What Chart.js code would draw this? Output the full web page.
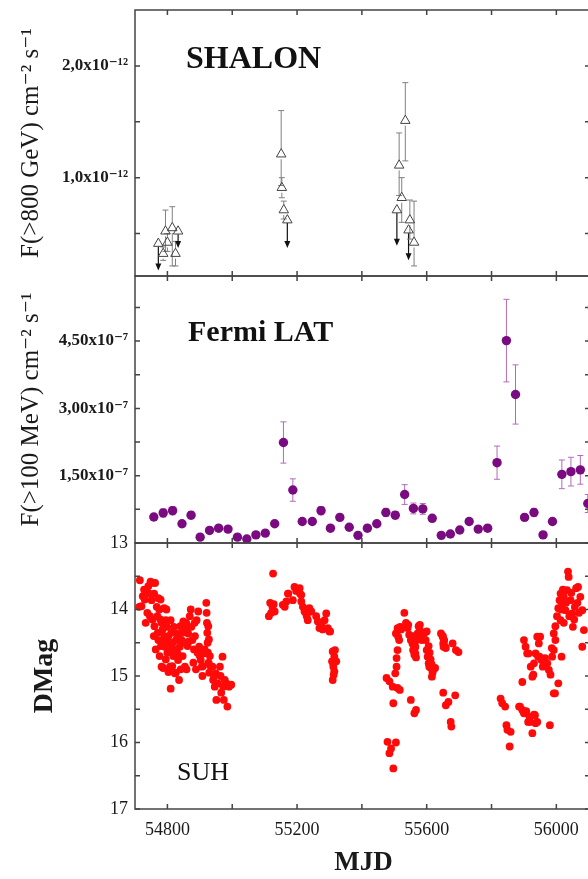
<!DOCTYPE html>
<html>
<head>
<meta charset="utf-8">
<script src="https://cdn.jsdelivr.net/npm/chart.js@4.4.1/dist/chart.umd.min.js"></script>
<style>
html, body { margin: 0; padding: 0; background: #fff; overflow: hidden; }
#wrap { position: relative; width: 588px; height: 879px; overflow: hidden; }
canvas { position: absolute; left: 0; top: 0; }
</style>
</head>
<body>
<div id="wrap">
  <canvas id="shalon" width="600" height="879"></canvas>
  <canvas id="fermi" width="600" height="879"></canvas>
  <canvas id="suh" width="600" height="879"></canvas>
</div>
<script>
'use strict';

// shared time axis
var xMin = 54700, xMax = 56110;
var xTicks = [54800, 55000, 55200, 55400, 55600, 55800, 56000];

// SHALON, F(>800 GeV) in units of 1e-12
var shalonMjd  = [54772, 54787, 54794, 54800, 54815, 54825, 54833, 55151, 55153, 55159, 55170, 55508, 55515, 55523, 55534, 55544, 55548, 55561];
var shalonFlux = [0.41, 0.32, 0.52, 0.42, 0.55, 0.32, 0.52, 1.21, 0.91, 0.71, 0.62, 0.71, 1.11, 0.82, 1.51, 0.53, 0.62, 0.42];
var shalonLo   = [null, 0.26, 0.34, 0.34, 0.21, 0.21, null, 0.93, 0.82, 0.63, null, null, 0.84, 0.60, 1.15, null, 0.45, 0.21];
var shalonHi   = [null, 0.38, 0.71, 0.50, 0.74, 0.43, null, 1.60, 1.00, 0.79, null, null, 1.40, 1.00, 1.85, null, 0.80, 0.79];
// upper limits: arrow tip value
var shalonUL   = [0.17, null, null, null, null, null, 0.37, null, null, null, 0.37, 0.39, null, null, null, 0.26, null, null];
var shalonTickVals = [0.5, 1, 1.5, 2];
var shalonTickText = ['', '1,0x10⁻¹²', '', '2,0x10⁻¹²'];

// Fermi LAT, F(>100 MeV) in units of 1e-7
var fermiMjd = [54758, 54787, 54816, 54845, 54873, 54901, 54930, 54958, 54987, 55016,
                55045, 55073, 55102, 55131, 55158, 55187, 55216, 55247, 55274, 55303,
                55332, 55361, 55388, 55417, 55446, 55474, 55503, 55532, 55559, 55588,
                55617, 55645, 55673, 55702, 55731, 55759, 55788, 55817, 55846, 55874,
                55902, 55931, 55959, 55988, 56017, 56045, 56074, 56097];
var fermiFlux = [0.58, 0.67, 0.72, 0.43, 0.62, 0.13, 0.28, 0.33, 0.31, 0.13,
                 0.09, 0.18, 0.22, 0.43, 2.24, 1.18, 0.48, 0.48, 0.72, 0.33,
                 0.57, 0.35, 0.17, 0.33, 0.43, 0.68, 0.62, 1.08, 0.77, 0.76,
                 0.55, 0.17, 0.20, 0.29, 0.48, 0.31, 0.33, 1.79, 4.51, 3.31,
                 0.57, 0.68, 0.18, 0.48, 1.53, 1.59, 1.63, 0.88];
var fermiErr = [0.07, 0.09, 0.09, 0.07, 0.08, 0.05, 0.05, 0.05, 0.05, 0.05,
                0.05, 0.05, 0.05, 0.06, 0.46, 0.25, 0.05, 0.05, 0.09, 0.05,
                0.07, 0.05, 0.05, 0.05, 0.05, 0.09, 0.08, 0.22, 0.12, 0.12,
                0.07, 0.05, 0.05, 0.05, 0.06, 0.05, 0.05, 0.37, 0.92, 0.66,
                0.07, 0.09, 0.05, 0.06, 0.32, 0.32, 0.32, 0.20];
var fermiTickVals = [0.75, 1.5, 2.25, 3, 3.75, 4.5, 5.25];
var fermiTickText = ['', '1,50x10⁻⁷', '', '3,00x10⁻⁷', '', '4,50x10⁻⁷', ''];

// SUH optical, DMag
var suhMjd = [
  // 2008-09 season
  54713, 54715, 54720, 54724, 54728, 54733, 54738, 54741, 54744, 54748,
  54751, 54754, 54756, 54758, 54759, 54762, 54764, 54767, 54769, 54770,
  54772, 54772, 54775, 54776, 54779, 54780, 54782, 54782, 54785, 54787,
  54787, 54790, 54792, 54795, 54795, 54797, 54799, 54800, 54803, 54803,
  54806, 54808, 54810, 54810, 54815, 54816, 54818, 54820, 54823, 54826,
  54826, 54828, 54831, 54833, 54836, 54838, 54840, 54841, 54844, 54847,
  54849, 54852, 54854, 54856, 54859, 54862, 54864, 54869, 54874, 54877,
  54880, 54882, 54885, 54888, 54890, 54893, 54895, 54898, 54900, 54903,
  54906, 54908, 54910, 54912, 54915, 54920, 54921, 54922, 54923, 54924,
  54925, 54927, 54929, 54939, 54941, 54946, 54949, 54951, 54956, 54962,
  54964, 54970, 54972, 54974, 54977, 54982, 54985, 54990, 54997,
  54730, 54746, 54760, 54778, 54790, 54805, 54812, 54822, 54834, 54846,
  54858, 54866, 54872, 54884, 54926, 54928, 54931, 54933, 54944, 54966,
  // 2009-10
  55113, 55117, 55120, 55124, 55126, 55128, 55131, 55156, 55162, 55167,
  55172, 55187, 55192, 55197, 55203, 55208, 55213, 55213, 55218, 55223,
  55228, 55233, 55238, 55244, 55259, 55264, 55269, 55274, 55279, 55285,
  55290, 55295, 55300, 55308, 55310, 55310, 55312, 55313, 55315, 55315,
  55321,
  55173, 55209, 55230, 55276, 55302, 55317, 55312,
  // 2010-11
  55476, 55479, 55485, 55485, 55490, 55495, 55497, 55497, 55503, 55505,
  55505, 55507, 55507, 55510, 55510, 55510, 55515, 55517, 55521, 55531,
  55536, 55541, 55546, 55551, 55551, 55556, 55558, 55562, 55562, 55565,
  55567, 55569, 55572, 55575, 55579, 55582, 55585, 55592, 55597, 55600,
  55603, 55606, 55608, 55613, 55616, 55620, 55626, 55644, 55649, 55651,
  55651, 55654, 55657, 55659, 55659, 55667, 55674, 55676, 55680, 55688,
  55690, 55698,
  55559, 55561, 55563, 55565, 55567, 55560, 55606, 55609, 55612, 55615,
  55618, 55650, 55652, 55653, 55543, 55512, 55518, 55579, 55600,
  // 2011-12
  55828, 55833, 55842, 55846, 55849, 55856, 55859, 55885, 55895, 55895,
  55900, 55900, 55905, 55907, 55910, 55913, 55917, 55921, 55926, 55926,
  55931, 55931, 55936, 55936, 55941, 55941, 55946, 55948, 55954, 55958,
  55965, 55972, 55977, 55980, 55982, 55987, 55992, 55992, 55992, 55997,
  55997, 56002, 56006, 56006, 56010, 56013, 56013, 56016, 56018, 56023,
  56023, 56028, 56033, 56036, 56038, 56044, 56049, 56051, 56057, 56061,
  56067, 56074, 56080, 56080, 56085,
  56015, 56020, 56030, 56040, 56046, 56055, 56065, 56070, 55950, 55914,
  55944, 55986, 55929, 55996, 55888, 55934, 55919
];
var suhMag = [
  13.96, 13.56, 13.95, 13.80, 13.70, 14.20, 14.05, 13.65, 13.76, 13.58,
  13.86, 14.15, 13.60, 14.40, 13.76, 13.60, 14.60, 13.96, 14.10, 14.35,
  13.83, 14.46, 14.00, 14.70, 13.85, 14.55, 14.20, 14.86, 14.30, 14.46,
  14.88, 13.98, 14.56, 14.16, 14.75, 14.00, 14.26, 14.65, 14.40, 14.94,
  14.60, 14.86, 14.16, 15.19, 14.85, 14.50, 14.70, 14.26, 14.96, 14.46,
  14.95, 14.36, 14.66, 14.76, 15.06, 14.56, 14.25, 14.90, 14.46, 14.70,
  14.18, 14.50, 14.86, 14.30, 14.90, 14.55, 14.36, 14.10, 14.26, 14.46,
  14.80, 14.60, 14.40, 14.90, 14.16, 14.65, 14.03, 14.56, 14.70, 14.76,
  14.86, 15.00, 14.85, 14.66, 14.60, 13.90, 14.05, 14.20, 14.35, 14.50,
  14.65, 14.80, 14.95, 14.86, 15.06, 15.16, 14.96, 15.36, 15.11, 14.86,
  15.00, 14.71, 15.16, 15.36, 15.06, 15.11, 15.46, 15.16, 15.13,
  13.85, 14.10, 14.25, 14.15, 14.40, 14.50, 14.35, 14.60, 14.40, 14.35,
  14.20, 14.48, 14.00, 14.20, 14.25, 14.45, 14.70, 14.85, 15.00, 15.25,

  14.10, 13.90, 14.05, 13.96, 13.46, 13.92, 14.03, 13.93, 13.96, 13.88,
  13.76, 13.86, 13.66, 13.72, 13.71, 13.68, 13.78, 13.88, 13.96, 14.03,
  14.06, 14.16, 13.98, 14.03, 14.10, 14.18, 14.28, 14.20, 14.30, 14.16,
  14.06, 14.28, 14.33, 14.78, 14.63, 15.06, 14.86, 14.98, 14.71, 14.93,
  14.78,
  13.76, 13.76, 14.10, 14.25, 14.33, 14.61, 14.82,

  15.03, 15.99, 15.08, 16.16, 16.09, 15.16, 15.41, 16.39, 14.96, 16.00,
  14.36, 14.73, 14.86, 15.18, 14.28, 14.61, 14.46, 15.21, 14.30, 14.05,
  14.20, 14.28, 14.38, 14.46, 15.36, 14.51, 14.61, 14.68, 15.56, 14.56,
  15.51, 14.46, 14.36, 14.25, 14.31, 14.41, 14.46, 14.36, 14.46, 14.61,
  14.71, 14.81, 14.86, 14.88, 15.01, 14.91, 14.88, 14.36, 14.41, 14.51,
  15.25, 14.46, 14.56, 14.58, 15.44, 15.39, 15.69, 15.76, 14.51, 15.29,
  14.61, 14.64,
  14.40, 14.50, 14.58, 14.66, 14.72, 14.62, 14.55, 14.65, 14.75, 14.82,
  14.95, 14.40, 14.56, 14.48, 14.23, 14.41, 14.26, 14.23, 14.33,

  15.34, 15.41, 15.46, 15.74, 15.81, 16.06, 15.84, 15.46, 15.51, 15.09,
  15.56, 14.46, 14.56, 15.53, 14.66, 15.69, 15.61, 14.86, 15.86, 15.01,
  15.58, 14.81, 15.71, 14.66, 15.69, 14.41, 14.51, 14.71, 14.76, 14.86,
  14.73, 14.81, 14.91, 15.74, 14.98, 14.71, 14.61, 15.26, 14.36, 14.46,
  14.25, 14.10, 15.11, 13.98, 13.86, 13.76, 14.16, 14.71, 13.91, 13.81,
  14.20, 14.01, 13.71, 13.43, 13.51, 13.86, 14.06, 14.26, 13.96, 13.68,
  13.66, 13.81, 14.01, 14.56, 14.31,
  14.00, 13.70, 13.90, 14.10, 13.75, 14.15, 13.90, 14.05, 14.41, 14.66,
  14.71, 14.58, 14.98, 15.26, 15.46, 15.59, 15.69
];
var suhTickVals = [13, 13.5, 14, 14.5, 15, 15.5, 16, 16.5, 17];

Chart.defaults.font.family = "'Liberation Serif', 'DejaVu Serif', serif";
Chart.defaults.color = '#1a1a1a';

function points(xs, ys) {
  return xs.map(function(x, i) { return { x: x, y: ys[i] }; });
}

// frame, inward ticks, error bars, upper limits, panel label
var panelPlugin = {
  id: 'panel',
  beforeDatasetsDraw: function(chart) {
    var ctx = chart.ctx, a = chart.chartArea;
    var xs = chart.scales.x, ys = chart.scales.y;
    ctx.save();
    ctx.beginPath();
    ctx.rect(a.left, a.top, a.right - a.left, a.bottom - a.top);
    ctx.clip();
    chart.data.datasets.forEach(function(ds) {
      ds.data.forEach(function(p, i) {
        var px = xs.getPixelForValue(p.x), py = ys.getPixelForValue(p.y);
        if (ds.errLo && ds.errLo[i] != null) {
          var y1 = ys.getPixelForValue(ds.errLo[i]);
          var y2 = ys.getPixelForValue(ds.errHi[i]);
          ctx.strokeStyle = ds.errColor;
          ctx.lineWidth = 1;
          ctx.beginPath();
          ctx.moveTo(px, y2); ctx.lineTo(px, py - ds.errGap);
          ctx.moveTo(px, py + ds.errGap); ctx.lineTo(px, y1);
          ctx.moveTo(px - 3, y1); ctx.lineTo(px + 3, y1);
          ctx.moveTo(px - 3, y2); ctx.lineTo(px + 3, y2);
          ctx.stroke();
        }
        if (ds.limitTo && ds.limitTo[i] != null) {
          var yt = ys.getPixelForValue(ds.limitTo[i]);
          ctx.strokeStyle = '#111';
          ctx.fillStyle = '#111';
          ctx.lineWidth = 1.2;
          ctx.beginPath();
          ctx.moveTo(px, py + 3); ctx.lineTo(px, yt - 5);
          ctx.stroke();
          ctx.beginPath();
          ctx.moveTo(px - 3, yt - 7); ctx.lineTo(px + 3, yt - 7); ctx.lineTo(px, yt);
          ctx.closePath();
          ctx.fill();
        }
      });
    });
    ctx.restore();
  },
  afterDraw: function(chart) {
    var ctx = chart.ctx, a = chart.chartArea;
    var xs = chart.scales.x, ys = chart.scales.y;
    var opts = chart.options.plugins.panel;
    ctx.save();
    ctx.strokeStyle = '#444';
    ctx.lineWidth = 1.5;
    ctx.strokeRect(a.left, a.top, a.right - a.left, a.bottom - a.top);
    ctx.beginPath();
    xTicks.forEach(function(v) {
      var x = xs.getPixelForValue(v);
      ctx.moveTo(x, a.top); ctx.lineTo(x, a.top + 5);
      ctx.moveTo(x, a.bottom); ctx.lineTo(x, a.bottom - 5);
    });
    ys.ticks.forEach(function(t) {
      var y = ys.getPixelForValue(t.value);
      ctx.moveTo(a.left, y); ctx.lineTo(a.left + 5, y);
      ctx.moveTo(a.right, y); ctx.lineTo(a.right - 7, y);
    });
    ctx.stroke();
    ctx.fillStyle = '#111';
    ctx.font = opts.font;
    ctx.textAlign = 'left';
    ctx.textBaseline = 'middle';
    ctx.fillText(opts.label, opts.x, opts.y);
    ctx.restore();
  }
};

function xAxis(show) {
  return {
    type: 'linear', min: xMin, max: xMax, display: show,
    grid: { display: false, drawTicks: false },
    border: { display: false },
    afterBuildTicks: function(s) { s.ticks = xTicks.map(function(v) { return { value: v }; }); },
    afterFit: function(s) {
      s.height = show ? 70 : 0;
      s.paddingLeft = 0; s.paddingRight = 0;
    },
    ticks: {
      autoSkip: false, maxRotation: 0, padding: 10, font: { size: 18 },
      callback: function(v) { return v % 400 === 0 ? String(v) : ''; }
    },
    title: { display: true, text: 'MJD', font: { size: 27, weight: 'bold' }, padding: { top: 0, bottom: 0 } }
  };
}

function yAxis(min, max, vals, label, title, titleFont, titlePad, tickFont, reverse) {
  return {
    type: 'linear', min: min, max: max, reverse: !!reverse,
    grid: { display: false, drawTicks: false },
    border: { display: false },
    afterFit: function(s) {
      s.width = 135;
      s.paddingTop = 0; s.paddingBottom = 0;
    },
    afterBuildTicks: function(s) { s.ticks = vals.map(function(v) { return { value: v }; }); },
    ticks: { autoSkip: false, padding: 7, font: tickFont, callback: label },
    title: { display: true, text: title, font: titleFont, padding: { top: titlePad, bottom: 0 } }
  };
}

function baseOptions(pad, x, y, panel) {
  return {
    responsive: false,
    animation: false,
    devicePixelRatio: 1,
    layout: { padding: pad },
    scales: { x: x, y: y },
    plugins: { legend: { display: false }, tooltip: { enabled: false }, panel: panel }
  };
}

new Chart(document.getElementById('shalon'), {
  type: 'scatter',
  data: {
    datasets: [{
      label: 'SHALON',
      data: points(shalonMjd, shalonFlux),
      pointStyle: 'triangle',
      pointRadius: 5.5,
      borderWidth: 1,
      borderColor: '#444',
      backgroundColor: 'rgba(255,255,255,0)',
      errLo: shalonLo, errHi: shalonHi, errColor: '#808080', errGap: 5,
      limitTo: shalonUL
    }]
  },
  options: baseOptions(
    { left: 0, top: 10, right: 8, bottom: 603 },
    xAxis(false),
    yAxis(0.12, 2.5, shalonTickVals, function(v, i) { return shalonTickText[i]; },
      'F(>800 GeV) cm⁻² s⁻¹', { size: 25 }, 16, { size: 17, weight: 'bold' }),
    { label: 'SHALON', x: 186, y: 60, font: "bold 32px 'Liberation Serif', serif" }
  ),
  plugins: [panelPlugin]
});

new Chart(document.getElementById('fermi'), {
  type: 'scatter',
  data: {
    datasets: [{
      label: 'Fermi LAT',
      data: points(fermiMjd, fermiFlux),
      pointStyle: 'circle',
      pointRadius: 4.7,
      borderWidth: 0,
      backgroundColor: '#7a0a7f',
      errLo: fermiFlux.map(function(v, i) { return v - fermiErr[i]; }),
      errHi: fermiFlux.map(function(v, i) { return v + fermiErr[i]; }),
      errColor: '#b36bb8', errGap: 0
    }]
  },
  options: baseOptions(
    { left: 0, top: 276, right: 8, bottom: 336 },
    xAxis(false),
    yAxis(0, 5.95, fermiTickVals, function(v, i) { return fermiTickText[i]; },
      'F(>100 MeV) cm⁻² s⁻¹', { size: 25 }, 16, { size: 17, weight: 'bold' }),
    { label: 'Fermi LAT', x: 188, y: 333, font: "bold 30px 'Liberation Serif', serif" }
  ),
  plugins: [panelPlugin]
});

new Chart(document.getElementById('suh'), {
  type: 'scatter',
  data: {
    datasets: [{
      label: 'SUH',
      data: points(suhMjd, suhMag),
      pointStyle: 'circle',
      pointRadius: 3.9,
      borderWidth: 0,
      backgroundColor: '#ff0a0a'
    }]
  },
  options: baseOptions(
    { left: 0, top: 543, right: 8, bottom: 0 },
    xAxis(true),
    yAxis(13, 17, suhTickVals, function(v) { return v % 1 === 0 ? String(v) : ''; },
      'DMag', { size: 28, weight: 'bold' }, 28, { size: 18 }, true),
    { label: 'SUH', x: 177, y: 773, font: "26px 'Liberation Serif', serif" }
  ),
  plugins: [panelPlugin]
});
</script>
</body>
</html>
